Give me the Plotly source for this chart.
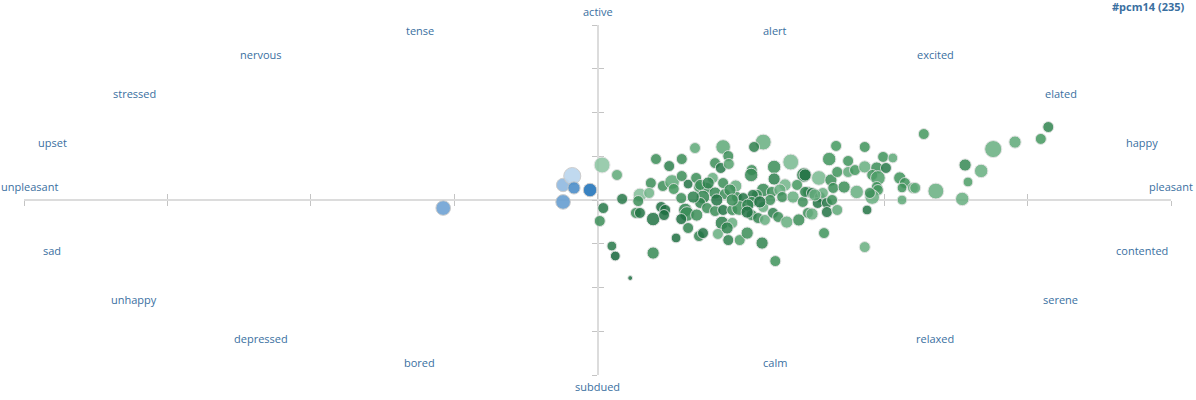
import plotly.graph_objects as go

# ---- mood labels around the circumplex (valence, arousal position of each word) ----
mood_labels = ["active", "alert", "excited", "elated", "happy", "pleasant",
               "contented", "serene", "relaxed", "calm", "subdued", "bored",
               "depressed", "unhappy", "sad", "unpleasant", "upset", "stressed",
               "nervous", "tense"]
label_x = [0.0, 0.31, 0.589, 0.808, 0.949, 1.0, 0.949, 0.808, 0.589, 0.31,
           0.0, -0.31, -0.587, -0.808, -0.951, -0.991, -0.951, -0.808, -0.587, -0.31]
label_y = [1.0, 0.971, 0.834, 0.611, 0.331, 0.08, -0.286, -0.566, -0.789, -0.926,
           -1.0, -0.926, -0.789, -0.566, -0.286, 0.08, 0.331, 0.611, 0.834, 0.971]
label_shift = [14, 0, 0, 0, 0, 0, 0, 0, 0, 0,
               -11, 0, 0, 0, 0, 0, 0, 0, 0, 0]

# ---- negative-valence responses (blue) ----
neg_valence = [-0.269, -0.060, -0.044, -0.041, -0.013, -0.060]
neg_arousal = [-0.046, 0.086, 0.137, 0.069, 0.057, -0.011]
neg_size = [12, 11, 14, 10, 11, 12]
neg_tone = [0.5, 0.3, 0.05, 0.7, 0.95, 0.55]

# ---- positive-valence responses (green) ----
pos_valence = [
    0.008, 0.034, 0.102, 0.125, 0.147, 0.170, 0.093, 0.114, 0.130, 0.133,
    0.147, 0.158, 0.172, 0.177, 0.074, 0.090, 0.043, 0.071, 0.010, 0.111,
    0.118, 0.146, 0.153, 0.156, 0.067, 0.074, 0.097, 0.116, 0.146, 0.158,
    0.137, 0.177, 0.004, 0.025, 0.031, 0.097, 0.057,
    0.289, 0.273, 0.219, 0.228, 0.205, 0.215, 0.229, 0.269, 0.268, 0.308,
    0.337, 0.360, 0.308, 0.327, 0.348, 0.201, 0.219, 0.241, 0.191, 0.179,
    0.289, 0.278, 0.271, 0.304, 0.318, 0.322, 0.341, 0.358, 0.367, 0.184,
    0.205, 0.222, 0.243, 0.254, 0.269, 0.289, 0.301, 0.179, 0.191, 0.205,
    0.219, 0.235, 0.247, 0.262, 0.269, 0.280, 0.292, 0.306, 0.315, 0.330,
    0.351, 0.367, 0.217, 0.235, 0.184, 0.210, 0.228, 0.248, 0.261, 0.287,
    0.310,
    0.416, 0.466, 0.404, 0.437, 0.498, 0.515, 0.362, 0.386, 0.407, 0.418,
    0.437, 0.449, 0.466, 0.487, 0.503, 0.479, 0.489, 0.527, 0.536, 0.550,
    0.531, 0.487, 0.489, 0.362, 0.374, 0.388, 0.393, 0.411, 0.430, 0.452,
    0.479, 0.475, 0.384, 0.400, 0.409, 0.374, 0.400, 0.418, 0.470, 0.531,
    0.395, 0.466,
    0.569, 0.786, 0.773, 0.728, 0.690, 0.641, 0.669, 0.646, 0.554, 0.590,
    0.636,
    0.193, 0.231, 0.167, 0.208, 0.235, 0.283, 0.379, 0.261, 0.173, 0.226,
]
pos_arousal = [
    0.200, 0.143, 0.234, 0.194, 0.234, 0.297, 0.097, 0.080, 0.103, 0.063,
    0.137, 0.091, 0.126, 0.074, 0.029, 0.040, 0.006, -0.006, -0.046, -0.040,
    -0.057, 0.011, -0.057, -0.080, -0.074, -0.074, -0.109, -0.086, -0.109, -0.160,
    -0.217, -0.206, -0.120, -0.263, -0.320, -0.303, -0.446,
    0.331, 0.303, 0.303, 0.251, 0.211, 0.183, 0.206, 0.171, 0.143, 0.189,
    0.217, 0.143, 0.120, 0.086, 0.086, 0.126, 0.097, 0.080, 0.069, 0.086,
    0.057, 0.029, 0.029, 0.046, 0.057, 0.017, 0.017, -0.011, 0.046, 0.017,
    0.040, 0.034, 0.017, 0.011, -0.011, -0.040, 0.000, -0.017, -0.046, -0.063,
    -0.057, -0.057, -0.046, -0.029, -0.086, -0.103, -0.114, -0.074, -0.097, -0.126,
    -0.114, -0.074, -0.131, -0.131, -0.189, -0.194, -0.229, -0.229, -0.189, -0.246,
    -0.349,
    0.309, 0.303, 0.234, 0.223, 0.246, 0.240, 0.143, 0.126, 0.114, 0.160,
    0.160, 0.171, 0.189, 0.183, 0.183, 0.143, 0.126, 0.126, 0.097, 0.069,
    0.069, 0.074, 0.057, 0.046, 0.040, 0.017, 0.040, 0.069, 0.074, 0.046,
    0.017, 0.040, -0.017, -0.017, 0.000, -0.080, -0.069, -0.057, -0.057, 0.000,
    -0.189, -0.269,
    0.377, 0.417, 0.349, 0.331, 0.291, 0.200, 0.166, 0.103, 0.069, 0.051,
    0.006,
    0.097, 0.057, 0.017, 0.000, 0.000, -0.011, 0.029, -0.069, -0.086, -0.160,
]
pos_size = [
    13, 9, 9, 9, 9, 9, 9, 9, 12, 9,
    9, 8, 9, 9, 11, 9, 9, 9, 9, 9,
    9, 9, 11, 12, 9, 9, 11, 9, 9, 9,
    8, 9, 9, 8, 8, 10, 4,
    13, 9, 12, 9, 9, 9, 9, 9, 11, 11,
    13, 12, 10, 10, 9, 9, 9, 10, 9, 9,
    11, 9, 9, 9, 10, 9, 10, 9, 9, 11,
    10, 9, 9, 9, 9, 9, 9, 9, 9, 9,
    9, 9, 12, 10, 9, 9, 9, 9, 9, 10,
    10, 9, 11, 9, 9, 9, 9, 9, 10, 10,
    9,
    9, 9, 11, 9, 9, 8, 10, 12, 10, 9,
    9, 9, 10, 10, 9, 9, 12, 10, 9, 9,
    8, 9, 9, 9, 9, 9, 9, 9, 10, 11,
    12, 9, 9, 9, 9, 10, 9, 9, 8, 8,
    9, 9,
    9, 9, 9, 10, 14, 10, 11, 8, 9, 13,
    11,
    10, 10, 10, 10, 10, 10, 10, 10, 10, 10,
]
pos_tone = [
    0.1, 0.35, 0.6, 0.75, 0.6, 0.35, 0.6, 0.6, 0.35, 0.5,
    0.6, 0.85, 0.6, 0.55, 0.15, 0.25, 0.8, 0.6, 0.8, 0.9,
    0.9, 0.6, 0.7, 0.6, 0.6, 0.85, 0.85, 0.9, 0.9, 0.7,
    0.9, 0.7, 0.6, 0.8, 1.0, 0.65, 0.9,
    0.3, 0.75, 0.35, 0.6, 0.6, 0.8, 0.4, 0.6, 0.65, 0.6,
    0.2, 0.75, 0.75, 0.25, 0.5, 0.3, 0.6, 0.3, 0.6, 0.6,
    0.65, 0.6, 0.8, 0.6, 0.3, 0.6, 0.3, 0.6, 0.6, 0.7,
    0.65, 0.6, 0.6, 0.85, 0.6, 0.3, 0.6, 0.7, 0.6, 0.6,
    0.85, 0.6, 0.55, 0.7, 0.6, 0.7, 0.3, 0.75, 0.6, 0.3,
    0.6, 0.6, 0.75, 0.3, 0.85, 0.3, 0.75, 0.45, 0.6, 0.7,
    0.55,
    0.5, 0.55, 0.55, 0.55, 0.55, 0.35, 0.85, 0.2, 0.6, 0.55,
    0.35, 0.5, 0.3, 0.6, 0.8, 0.55, 0.45, 0.55, 0.55, 0.35,
    0.55, 0.55, 0.5, 0.7, 0.85, 0.85, 0.3, 0.6, 0.6, 0.3,
    0.3, 0.6, 0.85, 0.85, 0.6, 0.3, 0.85, 0.35, 0.85, 0.35,
    0.55, 0.3,
    0.5, 0.7, 0.5, 0.35, 0.3, 0.65, 0.3, 0.45, 0.35, 0.3,
    0.3,
    0.7, 0.6, 0.75, 0.85, 0.6, 0.85, 0.3, 0.85, 0.6, 0.7,
]

title_text = "#pcm14 (235)"

LABEL_COLOR = "#3a6f9f"
AXIS_COLOR = "#dcdcdc"
TICK_COLOR = "#c4c4c4"
SIZE_SCALE = 1.22

fig = go.Figure()

fig.add_trace(go.Scatter(
    x=pos_valence, y=pos_arousal, mode="markers", hoverinfo="skip",
    marker=dict(size=[s * SIZE_SCALE for s in pos_size], color=pos_tone, cmin=0, cmax=1,
                colorscale=[[0, "#9ccfb0"], [0.5, "#44985f"], [1, "#15653a"]],
                opacity=0.85, line=dict(color="rgba(225,225,225,1)", width=1)),
))
fig.add_trace(go.Scatter(
    x=neg_valence, y=neg_arousal, mode="markers", hoverinfo="skip",
    marker=dict(size=[s * SIZE_SCALE for s in neg_size], color=neg_tone, cmin=0, cmax=1,
                colorscale=[[0, "#c2dbf1"], [0.5, "#6fa3d4"], [1, "#1c70b8"]],
                opacity=0.9, line=dict(color="rgba(200,200,200,1)", width=1)),
))
# invisible trace to carry the overlaid axes (ticks on the other side)
fig.add_trace(go.Scatter(x=[0], y=[0], xaxis="x2", yaxis="y2", mode="markers",
                         marker=dict(opacity=0), hoverinfo="skip"))

for txt, lx, ly, sh in zip(mood_labels, label_x, label_y, label_shift):
    fig.add_annotation(x=lx, y=ly, xref="x", yref="y", text=txt, showarrow=False,
                       xanchor="center", yanchor="middle", yshift=sh,
                       font=dict(family="Open Sans", size=11, color=LABEL_COLOR))

fig.add_annotation(x=1, y=1.054, xref="paper", yref="paper", xshift=16,
                   text="<b>" + title_text + "</b>", showarrow=False,
                   xanchor="right", yanchor="middle",
                   font=dict(family="Open Sans", size=11, color=LABEL_COLOR))

axis_common = dict(range=[-1, 1], dtick=0.25, tick0=0, showgrid=False, zeroline=False,
                   showticklabels=False, showline=True, linecolor=AXIS_COLOR,
                   linewidth=2, ticklen=5, tickwidth=1, tickcolor=TICK_COLOR,
                   anchor="free", position=0.5, layer="below traces", fixedrange=True)

fig.update_layout(
    width=1196, height=400,
    margin=dict(l=24, r=25, t=25, b=25),
    paper_bgcolor="white", plot_bgcolor="white",
    showlegend=False,
    xaxis=dict(**axis_common, ticks="outside"),
    yaxis=dict(**axis_common, ticks="outside"),
    xaxis2=dict(**axis_common, ticks="inside", overlaying="x"),
    yaxis2=dict(**axis_common, ticks="inside", overlaying="y"),
)

fig.write_html("out.html")
